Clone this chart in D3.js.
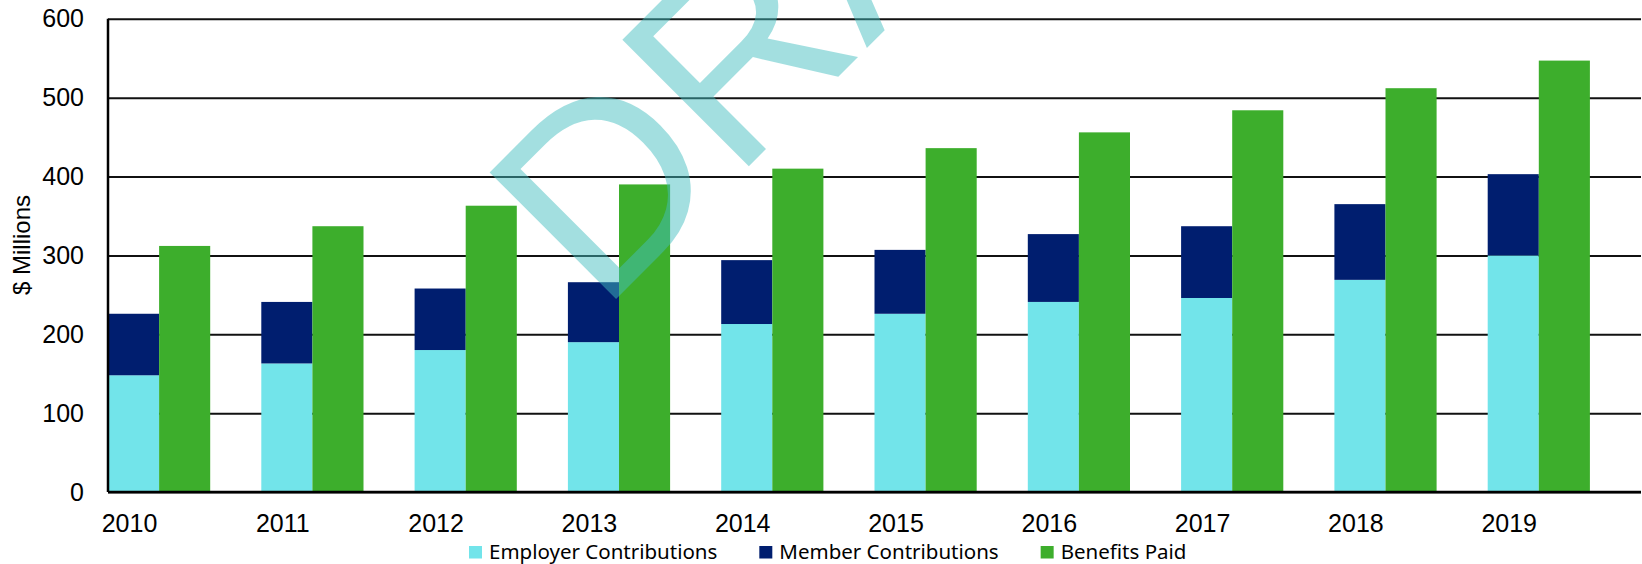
<!DOCTYPE html>
<html>
<head>
<meta charset="utf-8">
<script src="https://cdn.jsdelivr.net/npm/d3@7"></script>
<style>
  body { margin: 0; background: #fff; }
  svg { display: block; }
  .tick text { font-family: "Liberation Sans", Arial, sans-serif; fill: #000; }
</style>
</head>
<body>
<div class="js-chart"></div>
<script>
const years = ["2010", "2011", "2012", "2013", "2014", "2015", "2016", "2017", "2018", "2019"];
const employer = [148, 163, 180, 190, 213, 226, 241, 246, 269, 300];
const member = [78, 78, 78, 76, 81, 81, 86, 91, 96, 103];
const benefits = [312, 337, 363, 390, 410, 436, 456, 484, 512, 547];
const yTicks = [0, 100, 200, 300, 400, 500, 600];
const legendLabels = ["Employer Contributions", "Member Contributions", "Benefits Paid"];
const colors = ["#72e4ea", "#001e6f", "#3dae2c"];

const width = 1642, height = 564;
const plotLeft = 108, plotRight = 1641, plotTop = 18.8, plotBottom = 492;

const svg = d3.select('.js-chart').append('svg')
  .attr('width', width)
  .attr('height', height);

const x = d3.scaleBand().domain(years).range([plotLeft, plotRight]);
const y = d3.scaleLinear().domain([0, 600]).range([plotBottom, plotTop]);
const bw = x.bandwidth() / 3;

// gridlines
svg.append('g')
  .attr('transform', `translate(${plotLeft},0)`)
  .call(d3.axisLeft(y).tickValues(yTicks).tickSize(-(plotRight - plotLeft)).tickFormat(''))
  .call(g => g.select('.domain').remove())
  .call(g => g.selectAll('line').attr('stroke', '#111').attr('stroke-width', 2));

// y labels
svg.append('g')
  .attr('transform', `translate(${plotLeft},0)`)
  .call(d3.axisLeft(y).tickValues(yTicks).tickSize(0).tickPadding(24))
  .call(g => g.select('.domain').remove())
  .call(g => g.selectAll('text').style('font-size', '25px'));

// y title
svg.append('text')
  .attr('transform', `translate(30,245)rotate(-90)`)
  .style('text-anchor', 'middle')
  .style('font-family', '"Liberation Sans", Arial, sans-serif')
  .style('font-size', '24px')
  .text('$ Millions');

// bars
const groups = svg.append('g').selectAll('.year')
  .data(years)
  .enter()
  .append('g');

groups.append('rect')
  .attr('x', d => x(d))
  .attr('width', bw)
  .attr('y', (d, i) => y(employer[i]))
  .attr('height', (d, i) => y(0) - y(employer[i]))
  .attr('fill', colors[0]);

groups.append('rect')
  .attr('x', d => x(d))
  .attr('width', bw)
  .attr('y', (d, i) => y(employer[i] + member[i]))
  .attr('height', (d, i) => y(employer[i]) - y(employer[i] + member[i]))
  .attr('fill', colors[1]);

groups.append('rect')
  .attr('x', d => x(d) + bw)
  .attr('width', bw)
  .attr('y', (d, i) => y(benefits[i]))
  .attr('height', (d, i) => y(0) - y(benefits[i]))
  .attr('fill', colors[2]);

// axis lines
svg.append('line')
  .attr('x1', plotLeft).attr('x2', plotRight)
  .attr('y1', plotBottom).attr('y2', plotBottom)
  .attr('stroke', '#000').attr('stroke-width', 2.5);
svg.append('line')
  .attr('x1', plotLeft).attr('x2', plotLeft)
  .attr('y1', plotTop).attr('y2', plotBottom)
  .attr('stroke', '#000').attr('stroke-width', 2.5);

// x labels, shifted toward the left of each band
svg.append('g')
  .attr('transform', `translate(0,${plotBottom})`)
  .call(d3.axisBottom(x).tickSize(0).tickPadding(22))
  .call(g => g.select('.domain').remove())
  .call(g => g.selectAll('text')
    .style('font-size', '25px')
    .attr('dx', -(x.bandwidth() / 2 - 21.5)));

// legend
const legend = svg.append('g').attr('transform', 'translate(469,0)');
let lx = 0;
legendLabels.forEach((label, i) => {
  legend.append('rect')
    .attr('x', lx).attr('y', 546)
    .attr('width', 13).attr('height', 12.5)
    .attr('fill', colors[i]);
  const t = legend.append('text')
    .attr('x', lx + 20).attr('y', 558.5)
    .style('font-family', '"Noto Sans", sans-serif')
    .style('font-size', '20.5px')
    .text(label);
  lx += 20 + t.node().getComputedTextLength() + 42;
});

// watermark (runs off the top edge, as in the original)
svg.append('text')
  .attr('transform', 'translate(601,314)rotate(-45)')
  .style('font-family', '"Liberation Sans", Arial, sans-serif')
  .style('font-size', '260px')
  .attr('fill', '#43bec0')
  .attr('fill-opacity', 0.49)
  .text('DRAFT');
</script>
</body>
</html>
